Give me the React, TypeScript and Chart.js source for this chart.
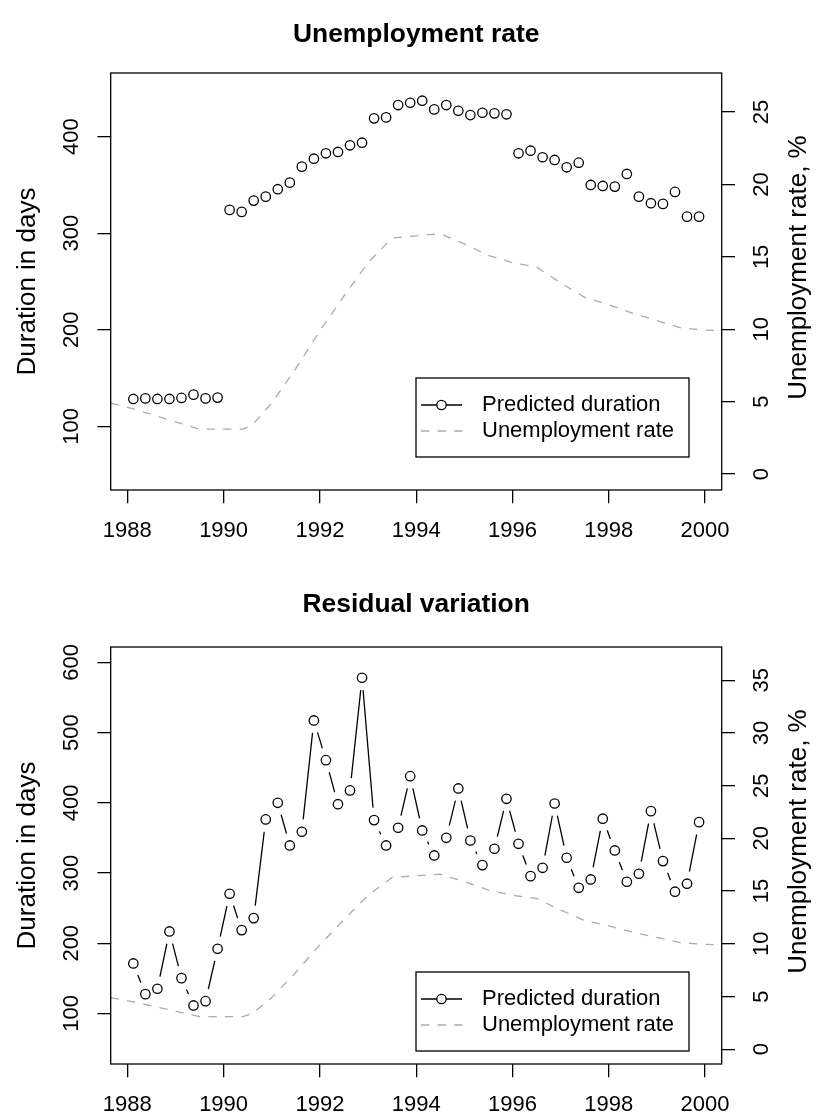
import React, { useEffect, useRef } from "react";
import { Chart, registerables } from "chart.js";

Chart.register(...registerables);

// ---------- data ----------
const quarterYears = [
  1988.125, 1988.375, 1988.625, 1988.875, 1989.125, 1989.375, 1989.625, 1989.875,
  1990.125, 1990.375, 1990.625, 1990.875, 1991.125, 1991.375, 1991.625, 1991.875,
  1992.125, 1992.375, 1992.625, 1992.875, 1993.125, 1993.375, 1993.625, 1993.875,
  1994.125, 1994.375, 1994.625, 1994.875, 1995.125, 1995.375, 1995.625, 1995.875,
  1996.125, 1996.375, 1996.625, 1996.875, 1997.125, 1997.375, 1997.625, 1997.875,
  1998.125, 1998.375, 1998.625, 1998.875, 1999.125, 1999.375, 1999.625, 1999.875,
];

const levelDuration = [
  128.3, 128.9, 128.3, 128.3, 129.4, 132.8, 128.9, 129.7,
  324.2, 322.1, 333.8, 337.9, 345.6, 352.4, 369.0, 377.2,
  382.8, 384.2, 391.1, 393.8, 419.0, 420.0, 432.8, 435.2,
  437.3, 428.3, 432.8, 426.9, 422.4, 424.8, 424.2, 423.2,
  382.8, 385.5, 378.7, 375.9, 368.3, 373.1, 350.0, 349.0,
  348.3, 361.4, 337.9, 331.1, 330.4, 342.8, 317.2, 317.2,
];

const residualDuration = [
  171.2, 127.5, 135.2, 216.8, 150.3, 111.4, 117.5, 192.2,
  270.5, 218.7, 235.8, 376.4, 400.1, 339.3, 358.8, 517.4,
  460.8, 398.1, 417.7, 578.2, 375.4, 339.3, 364.5, 438.0,
  360.7, 325.1, 350.2, 420.5, 346.4, 311.3, 334.6, 405.8,
  341.7, 295.6, 307.5, 399.1, 321.8, 279.0, 290.9, 377.4,
  332.2, 287.6, 299.0, 388.2, 317.0, 273.4, 284.8, 372.5,
];

const unempYears = [
  1987.655, 1988.125, 1989.5, 1990.4, 1990.6, 1991.0, 1991.5, 1992.0,
  1992.5, 1993.0, 1993.5, 1994.5, 1995.0, 1995.5, 1996.0, 1996.5,
  1997.0, 1997.5, 1998.0, 1998.5, 1999.0, 1999.5, 2000.0, 2000.345,
];
const unempRate = [
  4.9, 4.5, 3.1, 3.1, 3.4, 4.9, 7.3, 9.9,
  12.3, 14.6, 16.3, 16.6, 15.9, 15.1, 14.6, 14.3,
  13.2, 12.2, 11.7, 11.1, 10.6, 10.1, 9.95, 9.9,
];

const xTickYears = [1988, 1990, 1992, 1994, 1996, 1998, 2000];
const topLeftTicks = [100, 200, 300, 400];
const topRightTicks = [0, 5, 10, 15, 20, 25];
const bottomLeftTicks = [100, 200, 300, 400, 500, 600];
const bottomRightTicks = [0, 5, 10, 15, 20, 25, 30, 35];

const legendLabels = ["Predicted duration", "Unemployment rate"];
const leftAxisTitle = "Duration in days";
const rightAxisTitle = "Unemployment rate, %";

// ---------- style ----------
const FONT = "'Liberation Sans', Arial, Helvetica, sans-serif";
const GREY = "#ababab";
const LW = 1.3;
const TICK_LEN = 13.3;
const LEFT_W = 110.7;
const RIGHT_W = 98.3;
const X_MIN = 1987.655;
const X_MAX = 2000.345;
const DASH = [8.3, 8.3];
const PT_R = 4.7;

type PanelCfg = {
  title: string;
  values: number[];
  connect: boolean;
  leftMin: number;
  leftMax: number;
  rightMin: number;
  rightMax: number;
  leftTicks: number[];
  rightTicks: number[];
  padTop: number;
  xAxisHeight: number;
  titleBaseline: number;
  legendTop: number;
};

const topCfg: PanelCfg = {
  title: "Unemployment rate",
  values: levelDuration,
  connect: false,
  leftMin: 34,
  leftMax: 466,
  rightMin: -1.1,
  rightMax: 27.7,
  leftTicks: topLeftTicks,
  rightTicks: topRightTicks,
  padTop: 73,
  xAxisHeight: 70,
  titleBaseline: 41.5,
  legendTop: 378,
};

const bottomCfg: PanelCfg = {
  title: "Residual variation",
  values: residualDuration,
  connect: true,
  leftMin: 28,
  leftMax: 622,
  rightMin: -1.4,
  rightMax: 38.15,
  leftTicks: bottomLeftTicks,
  rightTicks: bottomRightTicks,
  padTop: 87,
  xAxisHeight: 56,
  titleBaseline: 52,
  legendTop: 412,
};

function axisCommon() {
  return {
    grid: {
      display: true,
      drawOnChartArea: false,
      drawTicks: true,
      tickLength: TICK_LEN,
      color: "#000",
      lineWidth: LW,
    },
    border: { display: false },
  };
}

function buildConfig(p: PanelCfg): any {
  const pts = quarterYears.map((x, i) => ({ x, y: p.values[i] }));
  const unemp = unempYears.map((x, i) => ({ x, y: unempRate[i] }));
  const datasets: any[] = [
    {
      label: "circles",
      data: pts,
      yAxisID: "y",
      showLine: false,
      pointRadius: PT_R,
      pointBorderWidth: LW,
      pointBorderColor: "#000",
      pointBackgroundColor: "rgba(0,0,0,0)",
      order: 1,
    },
    {
      label: "unemp",
      data: unemp,
      yAxisID: "y2",
      borderColor: GREY,
      borderWidth: LW,
      borderDash: DASH,
      pointRadius: 0,
      fill: false,
      tension: 0,
      order: 2,
    },
  ];
  if (p.connect) {
    datasets.push({
      label: "halo",
      data: pts,
      yAxisID: "y",
      showLine: false,
      pointRadius: 12.5,
      pointBorderWidth: 0,
      pointBackgroundColor: "#fff",
      pointBorderColor: "#fff",
      order: 3,
    });
    datasets.push({
      label: "line",
      data: pts,
      yAxisID: "y",
      showLine: true,
      borderColor: "#000",
      borderWidth: LW,
      pointRadius: 0,
      fill: false,
      tension: 0,
      order: 4,
    });
  }

  const decor = {
    id: "decor",
    afterDatasetsDraw(chart: any) {
      const { ctx, chartArea: a } = chart;
      ctx.save();
      ctx.strokeStyle = "#000";
      ctx.lineWidth = LW;
      ctx.strokeRect(a.left, a.top, a.right - a.left, a.bottom - a.top);
      ctx.restore();
    },
    afterDraw(chart: any) {
      const { ctx, chartArea: a } = chart;
      const midY = (a.top + a.bottom) / 2;
      ctx.save();
      ctx.fillStyle = "#000";
      // main title
      ctx.font = `bold 26.4px ${FONT}`;
      ctx.textAlign = "center";
      ctx.textBaseline = "alphabetic";
      ctx.fillText(p.title, (a.left + a.right) / 2, p.titleBaseline);
      // axis titles
      ctx.font = `26px ${FONT}`;
      ctx.save();
      ctx.translate(35, midY);
      ctx.rotate(-Math.PI / 2);
      ctx.fillText(leftAxisTitle, 0, 0);
      ctx.restore();
      ctx.save();
      ctx.translate(805.5, midY - 14);
      ctx.rotate(-Math.PI / 2);
      ctx.fillText(rightAxisTitle, 0, 0);
      ctx.restore();
      // legend
      const L = 416;
      const T = p.legendTop;
      const W = 273;
      const H = 79;
      ctx.fillStyle = "#fff";
      ctx.fillRect(L, T, W, H);
      ctx.strokeStyle = "#000";
      ctx.lineWidth = LW;
      ctx.strokeRect(L, T, W, H);
      const r1 = T + 27;
      const r2 = T + 53;
      ctx.beginPath();
      ctx.moveTo(L + 5, r1);
      ctx.lineTo(L + 46, r1);
      ctx.stroke();
      ctx.beginPath();
      ctx.arc(L + 25.5, r1, PT_R, 0, Math.PI * 2);
      ctx.fillStyle = "#fff";
      ctx.fill();
      ctx.stroke();
      ctx.setLineDash(DASH);
      ctx.strokeStyle = GREY;
      ctx.beginPath();
      ctx.moveTo(L + 5, r2);
      ctx.lineTo(L + 47, r2);
      ctx.stroke();
      ctx.setLineDash([]);
      ctx.fillStyle = "#000";
      ctx.font = `22px ${FONT}`;
      ctx.textAlign = "left";
      ctx.textBaseline = "middle";
      ctx.fillText(legendLabels[0], L + 66, r1);
      ctx.fillText(legendLabels[1], L + 66, r2);
      ctx.restore();
    },
  };

  const tickFont = { family: FONT, size: 22 };

  return {
    type: "line",
    data: { datasets },
    options: {
      animation: false,
      responsive: false,
      devicePixelRatio: 1,
      events: [],
      layout: { padding: { top: p.padTop, left: 0, right: 0, bottom: 0 } },
      plugins: {
        legend: { display: false },
        tooltip: { enabled: false },
        title: { display: false },
      },
      scales: {
        x: {
          type: "linear",
          position: "bottom",
          min: X_MIN,
          max: X_MAX,
          afterBuildTicks: (s: any) => {
            s.ticks = xTickYears.map((v) => ({ value: v }));
          },
          afterFit: (s: any) => {
            s.height = p.xAxisHeight;
          },
          ticks: {
            autoSkip: false,
            minRotation: 0,
            maxRotation: 0,
            padding: 14.5,
            color: "#000",
            font: tickFont,
            callback: (v: any) => String(v),
          },
          ...axisCommon(),
        },
        y: {
          type: "linear",
          position: "left",
          min: p.leftMin,
          max: p.leftMax,
          afterBuildTicks: (s: any) => {
            s.ticks = p.leftTicks.map((v) => ({ value: v }));
          },
          afterFit: (s: any) => {
            s.width = LEFT_W;
          },
          ticks: {
            minRotation: 90,
            maxRotation: 90,
            crossAlign: "center",
            padding: 7.5,
            color: "#000",
            font: tickFont,
            callback: (v: any) => String(v),
          },
          ...axisCommon(),
        },
        y2: {
          type: "linear",
          position: "right",
          min: p.rightMin,
          max: p.rightMax,
          afterBuildTicks: (s: any) => {
            s.ticks = p.rightTicks.map((v) => ({ value: v }));
          },
          afterFit: (s: any) => {
            s.width = RIGHT_W;
          },
          ticks: {
            minRotation: 90,
            maxRotation: 90,
            crossAlign: "center",
            padding: 14.5,
            color: "#000",
            font: tickFont,
            callback: (v: any) => String(v),
          },
          ...axisCommon(),
        },
      },
    },
    plugins: [decor],
  };
}

function Panel({ cfg, top }: { cfg: PanelCfg; top: number }) {
  const ref = useRef<HTMLCanvasElement>(null);
  useEffect(() => {
    if (!ref.current) return;
    const chart = new Chart(ref.current, buildConfig(cfg));
    return () => chart.destroy();
  }, [cfg]);
  return (
    <canvas
      ref={ref}
      width={820}
      height={560}
      style={{ position: "absolute", left: 0, top, width: 820, height: 560 }}
    />
  );
}

export default function App() {
  return (
    <div
      style={{
        position: "absolute",
        left: 0,
        top: 0,
        width: 820,
        height: 1120,
        background: "#fff",
      }}
    >
      <Panel cfg={topCfg} top={0} />
      <Panel cfg={bottomCfg} top={560} />
    </div>
  );
}
